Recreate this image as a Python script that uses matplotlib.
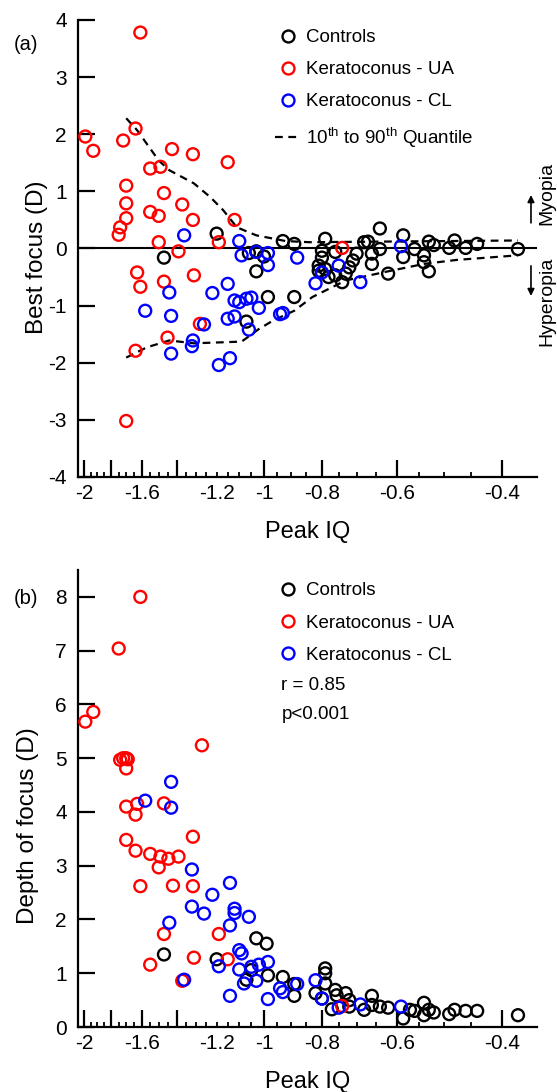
import numpy as np
import matplotlib
matplotlib.use('Agg')
import matplotlib.pyplot as plt
from matplotlib.lines import Line2D
from matplotlib.ticker import FixedLocator, FixedFormatter

plt.rcParams['font.family'] = ['Liberation Sans', 'DejaVu Sans']
plt.rcParams['mathtext.default'] = 'regular'
plt.rcParams['axes.unicode_minus'] = False

# ---- panel (a): best focus vs peak IQ ----
ctrl_a_iq = [-1.20, -0.93, -0.89, -1.47, -1.06, -1.03, -1.00, -1.03, -0.985, -0.89, -1.07,
             -0.79, -0.80, -0.76, -0.80, -0.81, -0.81, -0.79, -0.78, -0.76, -0.74, -0.73,
             -0.72, -0.71, -0.70, -0.68, -0.67, -0.64, -0.64, -0.66, -0.66, -0.62, -0.585,
             -0.585, -0.56, -0.54, -0.54, -0.53, -0.53, -0.52, -0.49, -0.48, -0.46, -0.44, -0.376]
ctrl_a_bf = [0.26, 0.13, 0.08, -0.16, -0.08, -0.05, -0.14, -0.40, -0.85, -0.85, -1.28,
             0.17, -0.04, -0.06, -0.16, -0.30, -0.39, -0.36, -0.50, -0.47, -0.59, -0.44,
             -0.33, -0.21, -0.09, 0.11, 0.12, 0.35, -0.01, -0.09, -0.27, -0.44, 0.23,
             -0.15, -0.01, -0.12, -0.24, -0.40, 0.12, 0.06, 0.01, 0.14, 0.01, 0.08, -0.01]

ua_a_iq = [-1.61, -1.99, -1.93, -1.72, -1.64, -1.425, -1.315, -1.55, -1.49, -1.15, -1.70,
           -1.47, -1.70, -1.37, -1.55, -1.50, -1.315, -1.12, -1.70, -1.74, -1.75, -1.50,
           -1.19, -1.39, -1.63, -1.61, -1.47, -1.31, -1.28, -1.45, -1.64, -1.70, -0.74]
ua_a_bf = [3.78, 1.96, 1.71, 1.89, 2.10, 1.74, 1.65, 1.40, 1.43, 1.51, 1.10,
           0.97, 0.79, 0.77, 0.64, 0.57, 0.50, 0.50, 0.53, 0.37, 0.24, 0.11,
           0.11, -0.05, -0.42, -0.67, -0.58, -0.47, -1.32, -1.56, -1.79, -3.02, 0.01]

cl_a_iq = [-1.36, -1.10, -1.09, -1.03, -0.985, -0.985, -0.88, -1.44, -1.22, -1.15, -1.58,
           -1.43, -1.12, -1.10, -1.07, -1.05, -1.02, -1.15, -1.12, -1.06, -1.26, -1.315,
           -1.32, -1.43, -1.19, -1.14, -0.94, -0.93, -0.82, -0.75, -0.80, -0.69, -0.59]
cl_a_bf = [0.23, 0.13, -0.12, -0.06, -0.08, -0.29, -0.16, -0.77, -0.78, -0.62, -1.09,
           -1.18, -0.91, -0.94, -0.88, -0.86, -1.04, -1.23, -1.19, -1.42, -1.33, -1.61,
           -1.71, -1.84, -2.04, -1.92, -1.15, -1.13, -0.61, -0.30, -0.42, -0.59, 0.04]

# 10th / 90th quantile curves
q_hi_iq = [-1.70, -1.63, -1.50, -1.44, -1.31, -1.23, -1.17, -1.11, -1.03, -0.92, -0.84, -0.376]
q_hi = [2.28, 2.07, 1.54, 1.37, 1.14, 0.90, 0.67, 0.37, 0.23, 0.13, 0.11, 0.14]
q_lo_iq = [-1.70, -1.57, -1.44, -1.31, -1.09, -1.02, -0.965, -0.89, -0.83, -0.73, -0.62,
           -0.54, -0.476, -0.376]
q_lo = [-1.91, -1.73, -1.61, -1.66, -1.63, -1.41, -1.26, -1.09, -0.85, -0.56, -0.40,
        -0.27, -0.20, -0.12]

# ---- panel (b): depth of focus vs peak IQ ----
ctrl_b_iq = [-1.47, -1.20, -1.03, -0.99, -1.05, -1.07, -0.985, -0.93, -0.89, -0.89,
             -0.79, -0.79, -0.79, -0.82, -0.80, -0.76, -0.756, -0.73, -0.72, -0.77, -0.72,
             -0.68, -0.66, -0.66, -0.64, -0.62, -0.585, -0.57, -0.56, -0.54, -0.54, -0.53,
             -0.52, -0.49, -0.48, -0.46, -0.44, -0.376]
ctrl_b_dof = [1.35, 1.26, 1.65, 1.55, 1.06, 0.88, 0.96, 0.93, 0.80, 0.58,
              1.09, 1.00, 0.81, 0.63, 0.53, 0.69, 0.59, 0.63, 0.50, 0.33, 0.38,
              0.32, 0.58, 0.41, 0.38, 0.36, 0.16, 0.32, 0.30, 0.45, 0.22, 0.32,
              0.27, 0.24, 0.32, 0.30, 0.30, 0.22]

ua_b_iq = [-1.61, -1.75, -1.99, -1.93, -1.74, -1.72, -1.70, -1.69, -1.70, -1.27,
           -1.70, -1.63, -1.47, -1.64, -1.315, -1.70, -1.64, -1.55, -1.49, -1.50, -1.445,
           -1.39, -1.61, -1.42, -1.315, -1.47, -1.19, -1.55, -1.31, -1.15, -1.37, -0.74]
ua_b_dof = [8.00, 7.04, 5.68, 5.86, 4.97, 5.00, 5.00, 4.98, 4.81, 5.24,
            4.10, 4.15, 4.16, 3.95, 3.54, 3.48, 3.28, 3.22, 3.17, 2.97, 3.13,
            3.17, 2.62, 2.63, 2.62, 1.73, 1.73, 1.16, 1.29, 1.26, 0.86, 0.39]

cl_b_iq = [-1.58, -1.43, -1.43, -1.32, -1.22, -1.14, -1.32, -1.26, -1.12, -1.12, -1.06,
           -1.44, -1.14, -1.10, -1.09, -1.19, -1.10, -1.05, -1.02, -0.985, -1.36, -1.08,
           -1.03, -1.14, -0.985, -0.94, -0.93, -0.88, -0.82, -0.80, -0.75, -0.69, -0.59]
cl_b_dof = [4.21, 4.56, 4.08, 2.93, 2.46, 2.68, 2.24, 2.11, 2.20, 2.12, 2.05,
            1.94, 1.89, 1.43, 1.37, 1.13, 1.07, 1.12, 1.16, 1.21, 0.88, 0.81,
            0.86, 0.58, 0.52, 0.72, 0.65, 0.80, 0.87, 0.53, 0.36, 0.42, 0.38]

x_major = [-2, -1.8, -1.6, -1.4, -1, -0.8, -0.6, -0.4]
x_major_labels = ['-2', '', '-1.6', '', '-1', '-0.8', '-0.6', '-0.4']
x_minor = [-1.95, -1.9, -1.85, -1.75, -1.7, -1.65, -1.55, -1.5, -1.45, -1.35, -1.3,
           -1.25, -1.2, -1.15, -1.1, -1.05, -0.95, -0.9, -0.85, -0.75, -0.7, -0.65,
           -0.55, -0.5, -0.45]
x_minor_labels = ['-1.2' if v == -1.2 else '' for v in x_minor]

series = (('Controls', 'black'), ('Keratoconus - UA', 'red'), ('Keratoconus - CL', 'blue'))


def fwd(x):
    return -np.log10(-np.asarray(x, dtype=float))


def inv(y):
    return -10 ** (-np.asarray(y, dtype=float))


def scatter(ax, xs, ys, color):
    ax.scatter(xs, ys, s=74, facecolors='none', edgecolors=color, linewidths=1.7,
               clip_on=False, zorder=3)


def style(ax, ylim, yticks, ylabel):
    ax.set_xscale('function', functions=(fwd, inv))
    ax.set_xlim(-2.047, -0.3495)
    ax.set_ylim(*ylim)
    ax.xaxis.set_major_locator(FixedLocator(x_major))
    ax.xaxis.set_major_formatter(FixedFormatter(x_major_labels))
    ax.xaxis.set_minor_locator(FixedLocator(x_minor))
    ax.xaxis.set_minor_formatter(FixedFormatter(x_minor_labels))
    ax.set_yticks(yticks)
    ax.set_yticklabels([str(v) for v in yticks])
    for s in ('top', 'right'):
        ax.spines[s].set_visible(False)
    for s in ('left', 'bottom'):
        ax.spines[s].set_linewidth(1.6)
    ax.tick_params(axis='both', which='major', direction='in', length=12.5, width=1.6,
                   labelsize=15)
    ax.tick_params(axis='x', which='both', pad=5)
    ax.tick_params(axis='x', which='minor', direction='in', length=3.8, width=1.3,
                   labelsize=15)
    ax.tick_params(axis='y', pad=8)
    ax.set_xlabel('Peak IQ', fontsize=17, labelpad=13)
    ax.set_ylabel(ylabel, fontsize=17.5)


fig = plt.figure(figsize=(5.57, 10.92), dpi=100)
ax1 = fig.add_axes([0.140, 0.5632, 0.824, 0.4185])
ax2 = fig.add_axes([0.140, 0.0595, 0.824, 0.4185])

# (a)
ax1.axhline(0, color='black', lw=1.5, zorder=1)
ax1.plot(q_hi_iq, q_hi, color='black', lw=1.6, dashes=(3.5, 2.5), zorder=2)
ax1.plot(q_lo_iq, q_lo, color='black', lw=1.6, dashes=(3.5, 2.5), zorder=2)
scatter(ax1, ctrl_a_iq, ctrl_a_bf, 'black')
scatter(ax1, ua_a_iq, ua_a_bf, 'red')
scatter(ax1, cl_a_iq, cl_a_bf, 'blue')
style(ax1, (-4, 4), list(range(-4, 5)), 'Best focus (D)')
ax1.yaxis.set_label_coords(-0.065, 0.48)

handles = [Line2D([], [], ls='none', marker='o', ms=8.6, mfc='none', mec=c, mew=1.7, label=l)
           for l, c in series]
handles.append(Line2D([], [], color='black', lw=1.6, dashes=(3.5, 2.5),
                      label='10$^{th}$ to 90$^{th}$ Quantile'))
ax1.legend(handles=handles, loc='upper left', bbox_to_anchor=(0.43, 0.98), frameon=False,
           fontsize=13.5, handlelength=1.3, handletextpad=0.35, labelspacing=0.8,
           borderpad=0, borderaxespad=0)

ax1.text(1.022, 0.62, 'Myopia', transform=ax1.transAxes, rotation=90, fontsize=14,
         ha='center', va='center')
ax1.text(1.022, 0.385, 'Hyperopia', transform=ax1.transAxes, rotation=90, fontsize=14,
         ha='center', va='center')
ax1.annotate('', xy=(0.987, 0.623), xytext=(0.987, 0.55), xycoords='axes fraction',
             arrowprops=dict(arrowstyle='-|>', color='black', lw=1.2, mutation_scale=10))
ax1.annotate('', xy=(0.987, 0.39), xytext=(0.987, 0.468), xycoords='axes fraction',
             arrowprops=dict(arrowstyle='-|>', color='black', lw=1.2, mutation_scale=10))
fig.text(0.047, 0.959, '(a)', fontsize=14.5, ha='center', va='center')

# (b)
scatter(ax2, ctrl_b_iq, ctrl_b_dof, 'black')
scatter(ax2, ua_b_iq, ua_b_dof, 'red')
scatter(ax2, cl_b_iq, cl_b_dof, 'blue')
style(ax2, (0, 8.5), list(range(0, 9)), 'Depth of focus (D)')
ax2.yaxis.set_label_coords(-0.085, 0.44)

handles = [Line2D([], [], ls='none', marker='o', ms=8.6, mfc='none', mec=c, mew=1.7, label=l)
           for l, c in series]
ax2.legend(handles=handles, loc='upper left', bbox_to_anchor=(0.43, 0.973), frameon=False,
           fontsize=13.5, handlelength=1.3, handletextpad=0.35, labelspacing=0.8,
           borderpad=0, borderaxespad=0)
ax2.text(0.443, 0.748, 'r = 0.85', transform=ax2.transAxes, fontsize=13.5, va='center')
ax2.text(0.443, 0.683, 'p<0.001', transform=ax2.transAxes, fontsize=13.5, va='center')
fig.text(0.047, 0.452, '(b)', fontsize=14.5, ha='center', va='center')

fig.savefig('out.png', dpi=100)
